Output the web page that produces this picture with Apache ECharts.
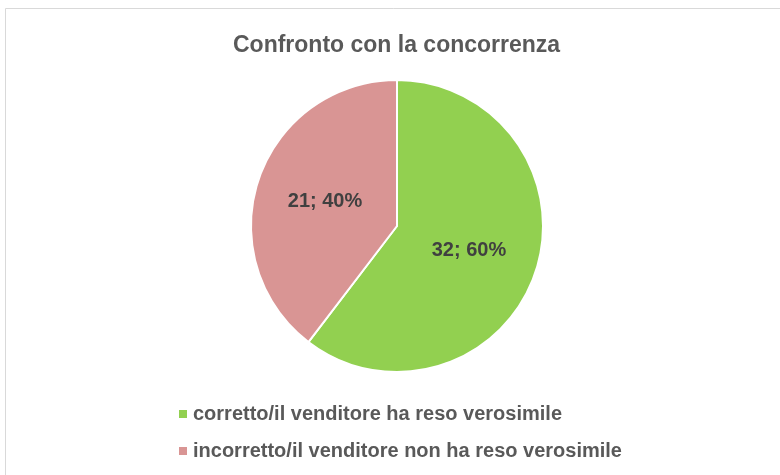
<!DOCTYPE html>
<html lang="it">
<head>
  <meta charset="utf-8">
  <title>Confronto con la concorrenza</title>
  <script type="text/javascript" src="https://cdn.jsdelivr.net/npm/echarts@6/dist/echarts.min.js"></script>
  <style type="text/css">
    * { margin: 0; padding: 0; }
    html, body, #chart { width: 100%; height: 100%; overflow: hidden; background: #fff; }
  </style>
</head>
<body>
  <div id="chart"></div>
  <script type="text/javascript">
    // dati
    var categories = ['corretto/il venditore ha reso verosimile', 'incorretto/il venditore non ha reso verosimile'];
    var values = [32, 21];
    var percents = [60, 40];
    var colors = ['#92d050', '#d99594'];

    var font = '"Liberation Sans", "DejaVu Sans", sans-serif';

    var option = {
      animation: false,
      title: {
        text: 'Confronto con la concorrenza',
        left: 228,
        top: 29,
        textStyle: { fontFamily: font, fontSize: 23, fontWeight: 'bold', color: '#595959' }
      },
      legend: {
        orient: 'vertical',
        left: 172,
        top: 399,
        itemWidth: 10,
        itemHeight: 10,
        itemGap: 17,
        icon: 'rect',
        textStyle: { fontFamily: font, fontSize: 20, fontWeight: 'bold', color: '#595959' }
      },
      graphic: [{
        type: 'rect',
        shape: { x: 5.5, y: 8.5, width: 800, height: 500 },
        style: { fill: 'none', stroke: '#d9d9d9', lineWidth: 1 },
        silent: true
      }],
      series: [{
        type: 'pie',
        center: [397, 226],
        radius: [0, 146],
        startAngle: 90,
        clockwise: true,
        itemStyle: { borderColor: '#fff', borderWidth: 2 },
        label: {
          position: 'inside',
          fontFamily: font,
          fontSize: 20,
          fontWeight: 'bold',
          color: '#404040',
          formatter: function (p) { return values[p.dataIndex] + '; ' + percents[p.dataIndex] + '%'; }
        },
        labelLine: { show: false },
        data: categories.map(function (c, i) {
          return { name: c, value: values[i], itemStyle: { color: colors[i] } };
        })
      }]
    };

    var chart = echarts.init(document.getElementById('chart'));
    chart.setOption(option);
  </script>
</body>
</html>
